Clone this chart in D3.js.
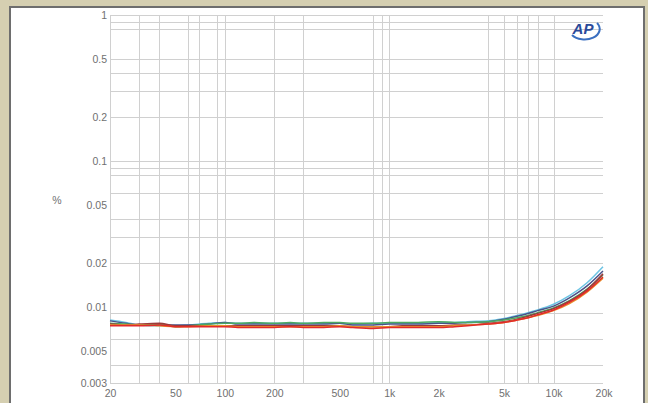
<!DOCTYPE html>
<html>
<head>
<meta charset="utf-8">
<script src="https://cdn.jsdelivr.net/npm/d3@7"></script>
<style>
  html, body { margin: 0; padding: 0; background: #d5cfb1; }
  svg { display: block; }
  .grid line { stroke: #d0d0d0; stroke-width: 1; shape-rendering: crispEdges; }
  .grid path { display: none; }
  .axis path, .axis line { display: none; }
  .axis text { font-family: "Liberation Sans", Arial, sans-serif; font-size: 10.5px; fill: #707070; }
</style>
</head>
<body>
<svg id="chart" width="648" height="403"></svg>
<script>
// frequencies (Hz) the curves were sampled at
const freqs = [20, 25, 30, 40, 50, 60, 80, 100, 120, 150, 200, 250, 300, 400, 500, 600, 800,
  1000, 1200, 1500, 2000, 2500, 3000, 4000, 5000, 6000, 7000, 8000, 10000, 12500, 16000, 20000];

// THD+N in %, one array per trace
const cyanVals = [0.0081, 0.0078, 0.0075, 0.0074, 0.0074, 0.0075, 0.0077, 0.0078, 0.0077, 0.0077, 0.0077, 0.0077, 0.0077, 0.0077, 0.0077, 0.0076, 0.0077,
  0.0077, 0.0077, 0.0077, 0.0078, 0.0078, 0.0079, 0.0080, 0.0083, 0.0087, 0.0091, 0.0095, 0.0104, 0.0119, 0.0146, 0.0188];
const navyVals = [0.0080, 0.0077, 0.0075, 0.0075, 0.0075, 0.0075, 0.0076, 0.0078, 0.0076, 0.0076, 0.0076, 0.0076, 0.0076, 0.0076, 0.0077, 0.0075, 0.0075,
  0.0076, 0.0076, 0.0076, 0.0077, 0.0077, 0.0078, 0.0079, 0.0082, 0.0086, 0.0090, 0.0094, 0.0101, 0.0115, 0.0139, 0.0176];
const greenVals = [0.0077, 0.0076, 0.0075, 0.0076, 0.0073, 0.0074, 0.0076, 0.0077, 0.0077, 0.0078, 0.0077, 0.0078, 0.0077, 0.0078, 0.0078, 0.0077, 0.0077,
  0.0078, 0.0078, 0.0078, 0.0079, 0.0078, 0.0078, 0.0079, 0.0081, 0.0084, 0.0087, 0.0091, 0.0098, 0.0110, 0.0132, 0.0165];
const brownVals = [0.0076, 0.0075, 0.0076, 0.0077, 0.0074, 0.0074, 0.0074, 0.0074, 0.0074, 0.0074, 0.0074, 0.0074, 0.0074, 0.0074, 0.0074, 0.0073, 0.0073,
  0.0073, 0.0074, 0.0074, 0.0074, 0.0075, 0.0075, 0.0077, 0.0079, 0.0082, 0.0086, 0.0090, 0.0097, 0.0109, 0.0131, 0.0168];
const orangeVals = [0.0075, 0.0075, 0.0075, 0.0074, 0.0073, 0.0073, 0.0074, 0.0074, 0.0073, 0.0073, 0.0073, 0.0073, 0.0073, 0.0073, 0.0074, 0.0073, 0.0073,
  0.0073, 0.0073, 0.0073, 0.0073, 0.0074, 0.0075, 0.0076, 0.0078, 0.0081, 0.0084, 0.0087, 0.0094, 0.0105, 0.0126, 0.0157];
const redVals = [0.0074, 0.0074, 0.0074, 0.0075, 0.0073, 0.0073, 0.0073, 0.0073, 0.0072, 0.0072, 0.0072, 0.0073, 0.0072, 0.0072, 0.0073, 0.0072, 0.0071,
  0.0072, 0.0072, 0.0072, 0.0072, 0.0073, 0.0074, 0.0076, 0.0078, 0.0081, 0.0084, 0.0088, 0.0095, 0.0107, 0.0128, 0.0160];

const series = [
  { name: "cyan", color: "#6cc4e4", values: cyanVals },
  { name: "navy", color: "#4a5288", values: navyVals },
  { name: "green", color: "#4caa62", values: greenVals },
  { name: "brown", color: "#9a3a3a", values: brownVals },
  { name: "orange", color: "#e8902c", values: orangeVals },
  { name: "red", color: "#e22a2a", values: redVals }
];

// tick labels and grid positions
const xTicks = [20, 50, 100, 200, 500, 1000, 2000, 5000, 10000, 20000];
const xTickLabels = ["20", "50", "100", "200", "500", "1k", "2k", "5k", "10k", "20k"];
const xGrid = [20, 30, 40, 60, 70, 90, 100, 200, 300, 800, 900, 1000, 4000, 5000, 6000, 7000, 8000, 10000];
const yTicks = [1, 0.5, 0.2, 0.1, 0.05, 0.02, 0.01, 0.005, 0.003];
const yGrid = [1, 0.9, 0.8, 0.5, 0.4, 0.3, 0.2, 0.1, 0.09, 0.08, 0.06, 0.04, 0.03, 0.02, 0.009, 0.006, 0.004, 0.003];

const svg = d3.select("#chart");

// white panel with dark edge
svg.append("rect").attr("x", 9).attr("y", 6).attr("width", 636).attr("height", 410)
  .attr("fill", "#6e6e6e");
svg.append("rect").attr("x", 11).attr("y", 8).attr("width", 632).attr("height", 410)
  .attr("fill", "#ffffff");

const x = d3.scaleLog().domain([20, 20000]).range([110, 603]);
const y = d3.scaleLog().domain([0.003, 1]).range([383, 15]);

// grid
svg.append("g").attr("class", "grid")
  .attr("transform", "translate(0,383)")
  .call(d3.axisBottom(x).tickValues(xGrid).tickSize(-368).tickFormat(""));
svg.append("g").attr("class", "grid")
  .attr("transform", "translate(110,0)")
  .call(d3.axisLeft(y).tickValues(yGrid).tickSize(-493).tickFormat(""));

// axes labels
svg.append("g").attr("class", "axis")
  .attr("transform", "translate(107,0)")
  .call(d3.axisLeft(y).tickValues(yTicks).tickSize(0).tickPadding(0)
    .tickFormat(d => String(d)));

const xAxis = svg.append("g").attr("class", "axis")
  .attr("transform", "translate(0,388)")
  .call(d3.axisBottom(x).tickValues(xTicks).tickSize(0).tickPadding(2)
    .tickFormat((d, i) => xTickLabels[i]));
xAxis.selectAll("text").filter(d => d === 20000).attr("text-anchor", "end").attr("dx", "9");

svg.append("text").attr("x", 57).attr("y", 204).attr("text-anchor", "middle")
  .style("font-family", "Liberation Sans, Arial, sans-serif").style("font-size", "10.5px")
  .attr("fill", "#707070").text("%");

// traces
const line = d3.line()
  .x((d, i) => x(freqs[i]))
  .y(d => y(d))
  .curve(d3.curveMonotoneX);

svg.append("g").selectAll("path")
  .data(series)
  .enter().append("path")
  .attr("fill", "none")
  .attr("stroke", d => d.color)
  .attr("stroke-width", 1.5)
  .attr("d", d => line(d.values));

// AP logo
const logo = svg.append("g").attr("transform", "translate(583,29)");
logo.append("path")
  .attr("d", "M -11 6 A 13 9 0 0 0 14 -6")
  .attr("fill", "none").attr("stroke", "#3a6fc0").attr("stroke-width", 2);
logo.append("text").attr("x", 0).attr("y", 5).attr("text-anchor", "middle")
  .style("font-family", "Liberation Sans, Arial, sans-serif").style("font-size", "15px")
  .style("font-style", "italic").style("font-weight", "bold")
  .attr("fill", "#2a4a9a").text("AP");
</script>
</body>
</html>
